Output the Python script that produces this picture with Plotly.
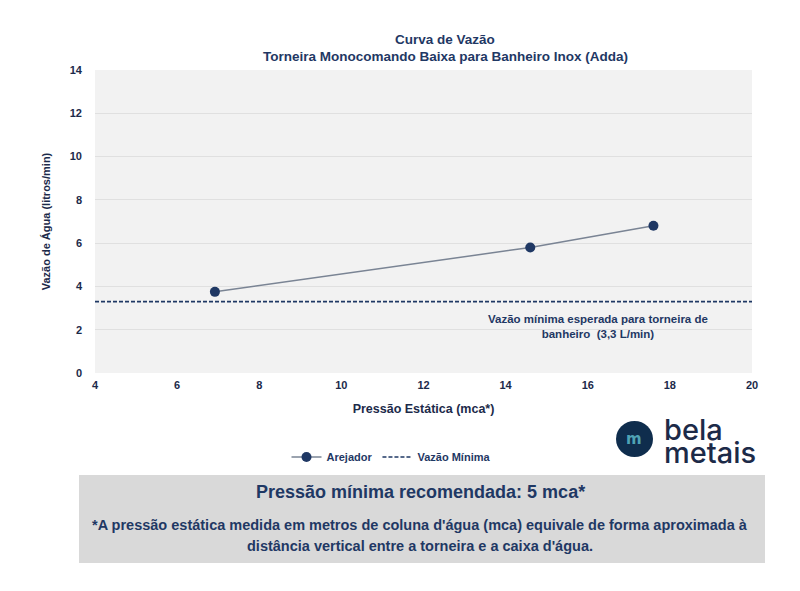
import plotly.graph_objects as go

# Data
pressao = [6.92, 14.6, 17.6]
vazao = [3.75, 5.8, 6.8]
vazao_minima = 3.3
x_range = [4, 20]
y_range = [0, 14]
x_ticks = [4, 6, 8, 10, 12, 14, 16, 18, 20]
y_ticks = [0, 2, 4, 6, 8, 10, 12, 14]

NAVY = "#1f3864"
TXT = "#1c2a4a"
OX, OY = 8, 8  # page body margin offset
W, H = 800 - OX, 591 - OY
PX0, PX1, PY0, PY1 = 95, 752, 70, 373
L, R, T, B = PX0 - OX, W - (PX1 - OX), PY0 - OY, H - (PY1 - OY)

def px(x):
    return (x - PX0) / (PX1 - PX0)

def py(y):
    return (PY1 - y) / (PY1 - PY0)

fig = go.Figure()

fig.add_trace(go.Scatter(
    x=pressao, y=vazao, mode="lines+markers", name="<b>Arejador</b>",
    line=dict(color="#7a8494", width=1.5),
    marker=dict(color=NAVY, size=10),
))
fig.add_trace(go.Scatter(
    x=x_range, y=[vazao_minima, vazao_minima], mode="lines", name="<b>Vazão Mínima</b>",
    line=dict(color=NAVY, width=1.6, dash="4px,2px"),
))

shapes = [
    dict(type="rect", xref="paper", yref="paper", x0=px(79), x1=px(765), y0=py(563), y1=py(475),
         fillcolor="#d9d9d9", line=dict(width=0), layer="below"),
    dict(type="circle", xref="paper", yref="paper", x0=px(616), x1=px(653), y0=py(457), y1=py(421),
         fillcolor="#0f2d4d", line=dict(width=0)),
]

def ann(text, x, y, size, family="Liberation Sans", color=NAVY, xanchor="center", align="center", weight=None):
    f = dict(family=family, size=size, color=color)
    if weight:
        f["weight"] = weight
    return dict(text=text, xref="paper", yref="paper", x=px(x), y=py(y), showarrow=False,
                xanchor=xanchor, yanchor="middle", align=align, font=f)

annotations = [
    ann("<b>Curva de Vazão</b>", 445, 40, 13.5),
    ann("<b>Torneira Monocomando Baixa para Banheiro Inox (Adda)</b>", 445, 56, 13.5),
    ann("<b>Vazão mínima esperada para torneira de<br>banheiro  (3,3 L/min)</b>", 598, 326, 11.5),
    ann("<b>Pressão mínima recomendada: 5 mca*</b>", 420, 492, 18),
    ann("<b>*A pressão estática medida em metros de coluna d'água (mca) equivale de forma aproximada à</b>",
        420, 525, 14.5),
    ann("<b>distância vertical entre a torneira e a caixa d'água.</b>", 420, 546, 14.5),
    ann("bela", 662, 429, 29, family="Inter", color="#1c2a48", xanchor="left", align="left", weight=500),
    ann("metais", 662, 452, 29, family="Inter", color="#1c2a48", xanchor="left", align="left", weight=500),
    ann("<b>m</b>", 634, 439, 15, family="DejaVu Sans", color="#4fa3b5"),
]

fig.update_layout(
    width=W, height=H,
    margin=dict(l=L, r=R, t=T, b=B),
    paper_bgcolor="white", plot_bgcolor="#f2f2f2",
    showlegend=True,
    legend=dict(orientation="h", x=px(391), y=py(457), xanchor="center", yanchor="middle",
                font=dict(family="Liberation Sans", size=11, color=NAVY), bgcolor="rgba(0,0,0,0)",
                itemwidth=30),
    font=dict(family="Liberation Sans", color=TXT),
    xaxis=dict(range=x_range, tickvals=x_ticks, ticktext=[f"<b>{v}</b>" for v in x_ticks],
               showgrid=False, zeroline=False, showline=False,
               tickfont=dict(family="Liberation Sans", size=11, color=TXT),
               title=dict(text="<b>Pressão Estática (mca*)</b>", standoff=14,
                          font=dict(family="Liberation Sans", size=12.5, color=TXT)),
               ticks="", ticklabelstandoff=4),
    yaxis=dict(range=y_range, tickvals=y_ticks, ticktext=[f"<b>{v}</b>" for v in y_ticks],
               showgrid=True, gridcolor="#e0e0e0", gridwidth=1,
               zeroline=False, showline=False,
               tickfont=dict(family="Liberation Sans", size=11, color=TXT),
               title=dict(text="<b>Vazão de Água (litros/min)</b>", standoff=16,
                          font=dict(family="Liberation Sans", size=11, color=TXT)),
               ticks="", ticklabelstandoff=12),
    shapes=shapes, annotations=annotations,
)

fig.write_html("out.html")
